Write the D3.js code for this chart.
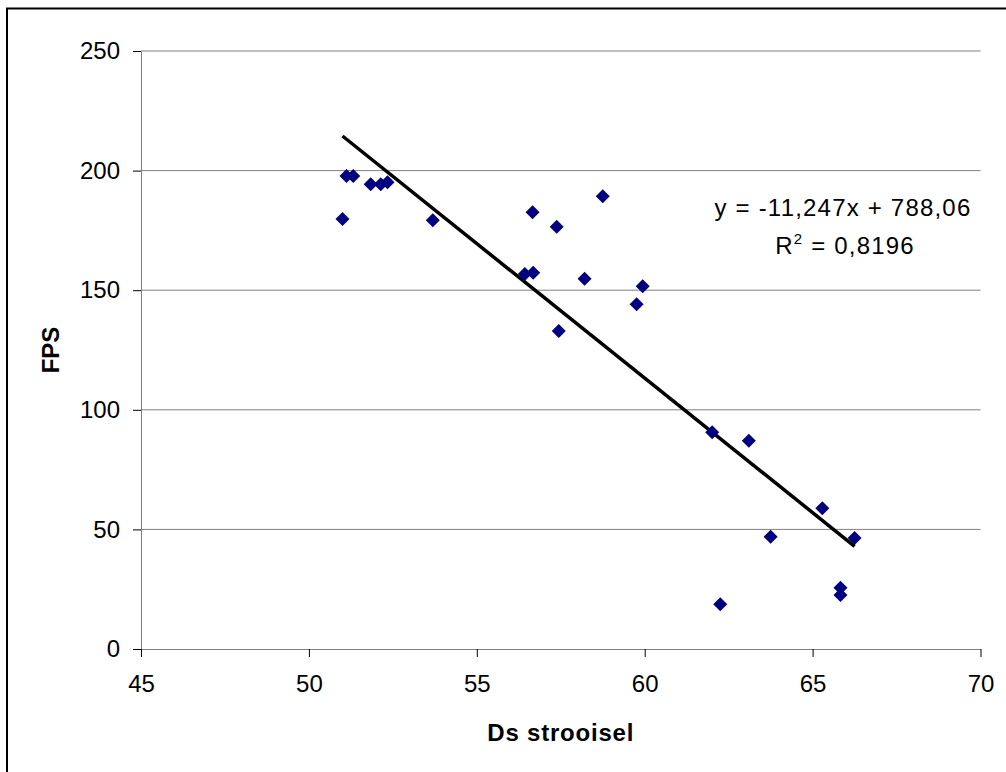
<!DOCTYPE html>
<html lang="en">
<head>
    <meta charset="UTF-8">
    <script src="https://d3js.org/d3.v7.min.js"></script>
    <style>
        html,
        body {
            margin: 0;
            height: 100%;
            overflow: hidden;
            background: #fff;
        }
        text {
            font-family: "Liberation Sans", Arial, sans-serif;
        }
    </style>
    <title>FPS vs Ds strooisel</title>
</head>
<body>
<svg id="svg"></svg>
    <script>
        // measured points
        const dsValues = [51.00, 51.12, 51.32, 51.84, 52.14, 52.34, 53.69, 56.66, 57.38, 58.75, 56.43, 56.68,
            58.21, 57.44, 59.76, 59.94, 62.01, 63.10, 62.25, 63.75, 65.29, 66.25, 65.83, 65.83];
        const fpsValues = [179.8, 197.7, 197.7, 194.3, 194.3, 195.1, 179.2, 182.6, 176.5, 189.3, 156.8, 157.3,
            154.8, 132.9, 144.1, 151.6, 90.6, 87.1, 18.7, 46.9, 58.8, 46.4, 25.6, 22.6];
        const xTicks = [45, 50, 55, 60, 65, 70];
        const yTicks = [0, 50, 100, 150, 200, 250];
        const slope = -11.247;
        const intercept = 788.06;
        const eqLines = ['y = -11,247x + 788,06', 'R', '2', ' = 0,8196'];

        const width = 1006, height = 772;
        const svg = d3.select('#svg').attr('width', width).attr('height', height);
        const margin = { top: 51, left: 141, bottom: 123, right: 25 };

        const x = d3.scaleLinear().domain([45, 70]).range([margin.left, width - margin.right - 0.5]);
        const y = d3.scaleLinear().domain([0, 250]).range([height - margin.bottom, margin.top]);

        // outer frame (right/bottom edges fall outside the picture)
        svg.append('rect')
            .attr('x', 7).attr('y', 8.5)
            .attr('width', 1100).attr('height', 900)
            .attr('fill', '#fff').attr('stroke', '#000').attr('stroke-width', 2);

        // gridlines
        svg.append('g').selectAll('line').data(yTicks.filter(d => d > 0)).join('line')
            .attr('x1', x(45)).attr('x2', x(70))
            .attr('y1', d => y(d)).attr('y2', d => y(d))
            .attr('stroke', '#808080').attr('stroke-width', 1);

        // axes
        const yAxis = svg.append('g')
            .attr('transform', `translate(${x(45)},0)`)
            .call(d3.axisLeft(y).tickValues(yTicks).tickSize(8).tickPadding(13).tickSizeOuter(0));
        const xAxis = svg.append('g')
            .attr('transform', `translate(0,${y(0)})`)
            .call(d3.axisBottom(x).tickValues(xTicks).tickSize(8).tickPadding(18).tickSizeOuter(0));
        [xAxis, yAxis].forEach(a => {
            a.select('.domain').attr('stroke', '#808080');
            a.selectAll('.tick line').attr('stroke', '#000');
            a.selectAll('.tick text').attr('font-size', 24).attr('fill', '#000')
                .attr('font-family', '"Liberation Sans", Arial, sans-serif');
        });

        // trendline across data range
        const xr = d3.extent(dsValues);
        svg.append('path')
            .datum(xr)
            .attr('fill', 'none').attr('stroke', '#000').attr('stroke-width', 3.5)
            .attr('d', d3.line().x(d => x(d)).y(d => y(slope * d + intercept)));

        // points
        const pts = dsValues.map((d, i) => ({ ds: d, fps: fpsValues[i] }));
        svg.append('g').selectAll('path').data(pts).join('path')
            .attr('transform', d => `translate(${x(d.ds)},${y(d.fps)}) rotate(45)`)
            .attr('d', d3.symbol(d3.symbolSquare, 98))
            .attr('fill', '#000080');

        // equation label
        svg.append('text').attr('x', 843).attr('y', 216)
            .attr('text-anchor', 'middle').attr('font-size', 24).attr('letter-spacing', 1.2)
            .text(eqLines[0]);
        const r2 = svg.append('text').attr('x', 845).attr('y', 254)
            .attr('text-anchor', 'middle').attr('font-size', 24).attr('letter-spacing', 1.2);
        r2.append('tspan').text(eqLines[1]);
        r2.append('tspan').text(eqLines[2]).attr('font-size', 15).attr('dy', -10);
        r2.append('tspan').text(eqLines[3]).attr('dy', 10);

        // axis titles
        svg.append('text').attr('x', (x(45) + x(70)) / 2).attr('y', 741)
            .attr('text-anchor', 'middle').attr('font-size', 24).attr('font-weight', 'bold')
            .attr('letter-spacing', 0.8)
            .text('Ds strooisel');
        svg.append('text')
            .attr('transform', `translate(59,${(y(0) + y(250)) / 2}) rotate(-90)`)
            .attr('text-anchor', 'middle').attr('font-size', 24).attr('font-weight', 'bold')
            .text('FPS');
    </script>
</body>
</html>
